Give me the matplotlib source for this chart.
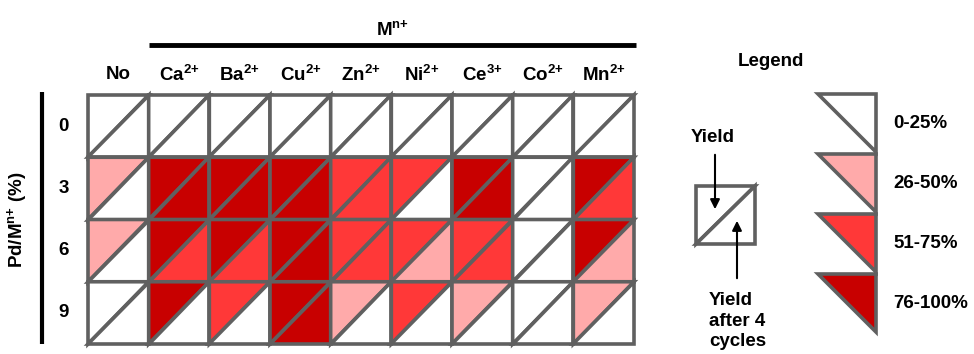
import matplotlib.pyplot as plt
from matplotlib.patches import Polygon

plt.rcParams['font.family'] = ['Liberation Sans', 'DejaVu Sans']
plt.rcParams['font.weight'] = 'bold'
plt.rcParams['mathtext.fontset'] = 'custom'
plt.rcParams['mathtext.rm'] = 'Liberation Sans:bold'
plt.rcParams['mathtext.it'] = 'Liberation Sans:bold'
plt.rcParams['mathtext.bf'] = 'Liberation Sans:bold'

# metal ions (columns) and Pd/M loading (rows)
metals = ['No', r'Ca$^{2{+}}$', r'Ba$^{2{+}}$', r'Cu$^{2{+}}$', r'Zn$^{2{+}}$',
          r'Ni$^{2{+}}$', r'Ce$^{3{+}}$', r'Co$^{2{+}}$', r'Mn$^{2{+}}$']
loadings = ['0', '3', '6', '9']

# yield class: 0 = 0-25%, 1 = 26-50%, 2 = 51-75%, 3 = 76-100%
yield_first = [
    [0, 0, 0, 0, 0, 0, 0, 0, 0],
    [1, 3, 3, 3, 2, 2, 3, 0, 3],
    [1, 3, 3, 3, 2, 2, 2, 0, 3],
    [0, 3, 2, 3, 1, 2, 1, 0, 1],
]
yield_cycles = [
    [0, 0, 0, 0, 0, 0, 0, 0, 0],
    [0, 3, 3, 3, 2, 0, 3, 0, 2],
    [0, 2, 2, 3, 2, 1, 2, 0, 1],
    [0, 0, 0, 3, 0, 0, 0, 0, 0],
]
class_labels = ['0-25%', '26-50%', '51-75%', '76-100%']
class_colors = ['#FFFFFF', '#FFAAAA', '#FF3838', '#C80000']
edge = '#606060'
fs = 13.5
lw = 2.6

fig = plt.figure(figsize=(9.74, 3.54), dpi=100)
W, H = 974, 354

# grid axes: one unit per cell
ax = fig.add_axes([88 / W, 1 - 344 / H, 546 / W, 249 / H])
ncol, nrow = len(metals), len(loadings)
ax.set_xlim(0, ncol)
ax.set_ylim(nrow, 0)
ax.axis('off')

for r in range(nrow):
    for c in range(ncol):
        top = Polygon([(c, r), (c + 1, r), (c, r + 1)], closed=True,
                      facecolor=class_colors[yield_first[r][c]],
                      edgecolor=edge, lw=lw, clip_on=False)
        bot = Polygon([(c + 1, r), (c + 1, r + 1), (c, r + 1)], closed=True,
                      facecolor=class_colors[yield_cycles[r][c]],
                      edgecolor=edge, lw=lw, clip_on=False)
        ax.add_patch(top)
        ax.add_patch(bot)

for c, m in enumerate(metals):
    ax.text(c + 0.5, -0.33, m, ha='center', va='center', fontsize=fs)
for r, l in enumerate(loadings):
    ax.text(-0.4, r + 0.5, l, ha='center', va='center', fontsize=fs)

# header bar and Mn+ label
ax.plot([1.0, 9.03], [-0.8, -0.8], color='black', lw=3.5, clip_on=False,
        solid_capstyle='butt')
ax.text(5.02, -1.06, r'M$^{n{+}}$', ha='center', va='center', fontsize=fs)
# row bar and axis label
ax.plot([-0.76, -0.76], [-0.05, 4.0], color='black', lw=3, clip_on=False,
        solid_capstyle='butt')
ax.text(-1.17, 2.0, r'Pd/M$^{n{+}}$ (%)', ha='center', va='center',
        rotation=90, fontsize=fs)

# legend axes in pixel units
lg = fig.add_axes([0, 0, 1, 1])
lg.set_xlim(0, W)
lg.set_ylim(H, 0)
lg.axis('off')
lg.text(771, 62, 'Legend', ha='center', va='center', fontsize=fs)

# key square
lg.add_patch(Polygon([(696, 186), (755, 186), (696, 244)], closed=True,
                     facecolor='white', edgecolor=edge, lw=lw))
lg.add_patch(Polygon([(755, 186), (755, 244), (696, 244)], closed=True,
                     facecolor='white', edgecolor=edge, lw=lw))
lg.text(713, 137, 'Yield', ha='center', va='center', fontsize=fs)
lg.annotate('', xy=(715, 212), xytext=(715, 152),
            arrowprops=dict(arrowstyle='-|>', color='black', lw=1.5,
                            mutation_scale=14))
lg.annotate('', xy=(737, 218), xytext=(737, 281),
            arrowprops=dict(arrowstyle='-|>', color='black', lw=1.5,
                            mutation_scale=14))
lg.text(709, 321, 'Yield\nafter 4\ncycles', ha='left', va='center',
        fontsize=fs, linespacing=1.3)

# colour classes
for i, (lab, col) in enumerate(zip(class_labels, class_colors)):
    y0 = 94 + i * 60
    lg.add_patch(Polygon([(818, y0), (876, y0), (876, y0 + 58)], closed=True,
                         facecolor=col, edgecolor=edge, lw=lw))
    lg.text(893, y0 + 30, lab, ha='left', va='center', fontsize=fs)

fig.savefig('out.png', dpi=100)
